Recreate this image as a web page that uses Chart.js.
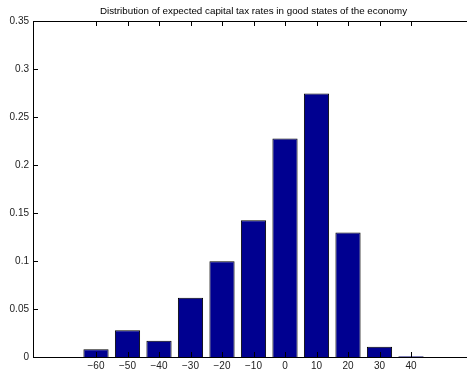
<!DOCTYPE html>
<html>
<head>
<meta charset="utf-8">
<script src="https://cdn.jsdelivr.net/npm/chart.js@4"></script>
<style>
  html, body { margin: 0; padding: 0; background: #fff; overflow: hidden; }
  #wrap { width: 476px; height: 372px; }
</style>
</head>
<body>
<div id="wrap"><canvas id="c" width="476" height="372"></canvas></div>
<script>
// expected capital tax rate bins (percent) and their frequency
var rates = [-60, -50, -40, -30, -20, -10, 0, 10, 20, 30, 40];
var shares = [0.008, 0.0278, 0.017, 0.0618, 0.0997, 0.1424, 0.2275, 0.2744, 0.1296, 0.0107, 0.0008];
var xTicks = [-60, -50, -40, -30, -20, -10, 0, 10, 20, 30, 40];
var yTicks = [0, 0.05, 0.1, 0.15, 0.2, 0.25, 0.3, 0.35];
var title = 'Distribution of expected capital tax rates in good states of the economy';

var fontName = "'Liberation Sans', Arial, Helvetica, sans-serif";

// matlab style box with inward ticks, title centred over the axes
var boxTicks = {
    id: 'boxTicks',
    afterDraw: function (chart) {
        var ctx = chart.ctx, a = chart.chartArea;
        var xs = chart.scales.x, ys = chart.scales.y;
        ctx.save();
        ctx.strokeStyle = '#000';
        ctx.lineWidth = 1;
        ctx.beginPath();
        ctx.moveTo(a.left, a.top + 0.5);
        ctx.lineTo(a.right, a.top + 0.5);
        ctx.moveTo(a.right - 0.5, a.top);
        ctx.lineTo(a.right - 0.5, a.bottom);
        xTicks.forEach(function (v) {
            var px = Math.round(xs.getPixelForValue(v)) + 0.5;
            ctx.moveTo(px, a.bottom);
            ctx.lineTo(px, a.bottom - 5);
            ctx.moveTo(px, a.top);
            ctx.lineTo(px, a.top + 5);
        });
        yTicks.forEach(function (v) {
            var py = Math.round(ys.getPixelForValue(v)) + 0.5;
            ctx.moveTo(a.left, py);
            ctx.lineTo(a.left + 5, py);
            ctx.moveTo(a.right, py);
            ctx.lineTo(a.right - 5, py);
        });
        ctx.stroke();

        ctx.fillStyle = '#000';
        ctx.font = '9.8px ' + fontName;
        ctx.textAlign = 'center';
        ctx.textBaseline = 'middle';
        ctx.fillText(title, (a.left + a.right) / 2, 11);
        ctx.restore();
    }
};

var ctx = document.getElementById('c').getContext('2d');
var myBarChart = new Chart(ctx, {
    type: 'bar',
    data: {
        datasets: [{
            data: rates.map(function (r, i) { return {x: r, y: shares[i]}; }),
            backgroundColor: '#000090',
            borderColor: '#000',
            borderWidth: 1,
            borderSkipped: 'bottom',
            barPercentage: 0.8,
            categoryPercentage: 1
        }]
    },
    options: {
        responsive: false,
        animation: false,
        layout: { padding: { left: 0, right: 2, top: 21, bottom: 0 } },
        plugins: {
            legend: { display: false },
            tooltip: { enabled: false },
            title: { display: false }
        },
        scales: {
            x: {
                type: 'linear',
                offset: false,
                min: -80,
                max: 60,
                afterBuildTicks: function (scale) {
                    scale.ticks = xTicks.map(function (v) { return {value: v}; });
                },
                afterFit: function (scale) { scale.height = 15; },
                grid: { display: false, drawTicks: false, offset: false },
                border: { display: true, color: '#000', width: 1 },
                ticks: {
                    autoSkip: false,
                    maxRotation: 0,
                    padding: 3,
                    color: '#222',
                    font: { family: fontName, size: 10 },
                    callback: function (v) { return v < 0 ? '\u2212' + Math.abs(v) : String(v); }
                }
            },
            y: {
                min: 0,
                max: 0.35,
                afterBuildTicks: function (scale) {
                    scale.ticks = yTicks.map(function (v) { return {value: v}; });
                },
                afterFit: function (scale) { scale.width = 33; },
                grid: { display: false, drawTicks: false },
                border: { display: true, color: '#000', width: 1 },
                ticks: {
                    padding: 4,
                    color: '#222',
                    font: { family: fontName, size: 10 },
                    callback: function (v) { return String(Number(v.toFixed(2))); }
                }
            }
        }
    },
    plugins: [boxTicks]
});
</script>
</body>
</html>
